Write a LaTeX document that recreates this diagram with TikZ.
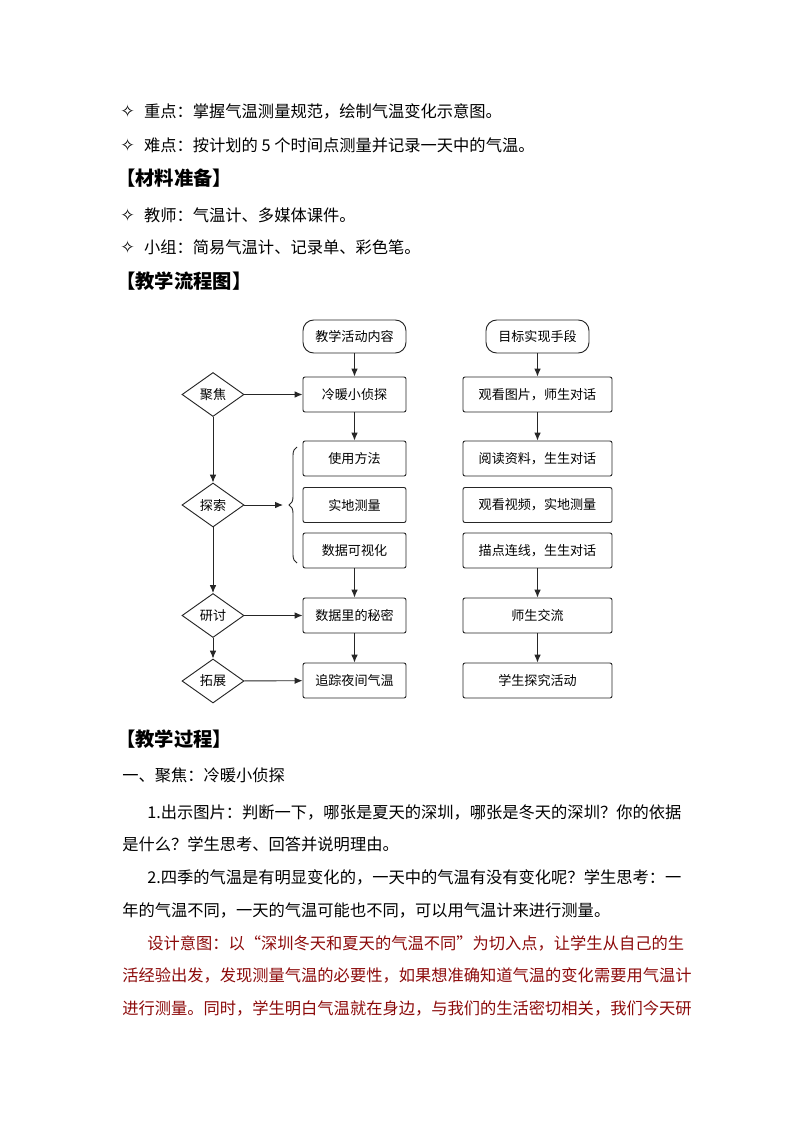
\documentclass[tikz,border=0pt]{standalone}
\usepackage{fontspec}
\setmainfont{Noto Sans CJK SC}
\newfontfamily\symf{DejaVu Sans}
\usetikzlibrary{shapes.geometric,decorations.pathreplacing,arrows.meta}
\definecolor{dred}{RGB}{140,10,10}
\begin{document}
\begin{tikzpicture}[x=0.75pt,y=-0.75pt,
  box/.style={draw=black!85,line width=0.7pt,rounded corners=1.5pt,minimum width=103*0.75pt,minimum height=35*0.75pt,inner sep=0pt,font=\fontsize{9.8}{11}\selectfont},
  rbox/.style={box,minimum width=149*0.75pt},
  pill/.style={box,rounded corners=8pt,minimum height=33*0.75pt},
  dia/.style={draw=black!85,line width=0.7pt,diamond,aspect=1.4,minimum width=62*0.75pt,minimum height=44*0.75pt,inner sep=0pt,font=\fontsize{9.8}{11}\selectfont},
  arr/.style={draw=black!85,line width=0.7pt,-{Latex[length=6pt,width=5pt]}},
  body/.style={anchor=west,inner sep=0pt,font=\fontsize{12.2}{14}\selectfont},
  head/.style={anchor=west,inner sep=0pt,font=\fontsize{14.5}{16}\selectfont\bfseries}]
\useasboundingbox (0,0) rectangle (794,1123);
% top text
\node[body] (b1) at (120,111) {{\symf\fontsize{13}{14}\selectfont ✧}\hspace{7pt}重点：掌握气温测量规范，绘制气温变化示意图。};
\node[body] (b2) at (120,145) {{\symf\fontsize{13}{14}\selectfont ✧}\hspace{7pt}难点：按计划的 5 个时间点测量并记录一天中的气温。};
\node[head] (h1) at (116,178) {【材料准备】};
\node[body] (b3) at (120,215) {{\symf\fontsize{13}{14}\selectfont ✧}\hspace{7pt}教师：气温计、多媒体课件。};
\node[body] (b4) at (120,247) {{\symf\fontsize{13}{14}\selectfont ✧}\hspace{7pt}小组：简易气温计、记录单、彩色笔。};
\node[head] (h2) at (116,281) {【教学流程图】};
% flowchart left
\node[pill] (p1) at (354.5,336.5) {教学活动内容};
\node[box] (l1) at (354.5,394.5) {冷暖小侦探};
\node[box] (l2) at (354.5,458.5) {使用方法};
\node[box] (l3) at (354.5,505) {实地测量};
\node[box] (l4) at (354.5,550.5) {数据可视化};
\node[box] (l5) at (354.5,615.5) {数据里的秘密};
\node[box] (l6) at (354.5,680.5) {追踪夜间气温};
% right
\node[pill,minimum width=103*0.75pt] (p2) at (537.5,336.5) {目标实现手段};
\node[rbox] (r1) at (537.5,394.5) {观看图片，师生对话};
\node[rbox] (r2) at (537.5,458.5) {阅读资料，生生对话};
\node[rbox] (r3) at (537.5,505) {观看视频，实地测量};
\node[rbox] (r4) at (537.5,550.5) {描点连线，生生对话};
\node[rbox] (r5) at (537.5,615.5) {师生交流};
\node[rbox] (r6) at (537.5,680.5) {学生探究活动};
% diamonds
\node[dia] (d1) at (213,394.5) {聚焦};
\node[dia] (d2) at (213,505) {探索};
\node[dia] (d3) at (213,615.5) {研讨};
\node[dia] (d4) at (213,681) {拓展};
\coordinate (bt) at (297,447);
\coordinate (bb) at (297,563);
\coordinate (bm) at (283,505);
\draw[draw=black!85,line width=0.7pt,decorate,decoration={brace,amplitude=6pt,mirror}] (bt) -- (bb);
% arrows
\draw[arr] (p1) -- (l1);
\draw[arr] (l1) -- (l2);
\draw[arr] (l4) -- (l5);
\draw[arr] (l5) -- (l6);
\draw[arr] (p2) -- (r1);
\draw[arr] (r1) -- (r2);
\draw[arr] (r4) -- (r5);
\draw[arr] (r5) -- (r6);
\draw[arr] (d1) -- (d2);
\draw[arr] (d2) -- (d3);
\draw[arr] (d3) -- (d4);
\draw[arr] (d1) -- (l1);
\draw[arr] (d2) -- (bm);
\draw[arr] (d3) -- (l5);
\draw[arr] (d4) -- (l6);
% process text
\node[head] (h3) at (116,739) {【教学过程】};
\node[body] (t0) at (122,775) {一、聚焦：冷暖小侦探};
\node[body] (t1) at (147,812) {1.出示图片：判断一下，哪张是夏天的深圳，哪张是冬天的深圳？你的依据};
\node[body] (t2) at (122,844) {是什么？学生思考、回答并说明理由。};
\node[body] (t3) at (147,877) {2.四季的气温是有明显变化的，一天中的气温有没有变化呢？学生思考：一};
\node[body] (t4) at (122,910) {年的气温不同，一天的气温可能也不同，可以用气温计来进行测量。};
\node[body,text=dred] (t5) at (147,943) {设计意图：以“深圳冬天和夏天的气温不同”为切入点，让学生从自己的生};
\node[body,text=dred] (t6) at (122,975) {活经验出发，发现测量气温的必要性，如果想准确知道气温的变化需要用气温计};
\node[body,text=dred] (t7) at (122,1008) {进行测量。同时，学生明白气温就在身边，与我们的生活密切相关，我们今天研};
\end{tikzpicture}
\end{document}
